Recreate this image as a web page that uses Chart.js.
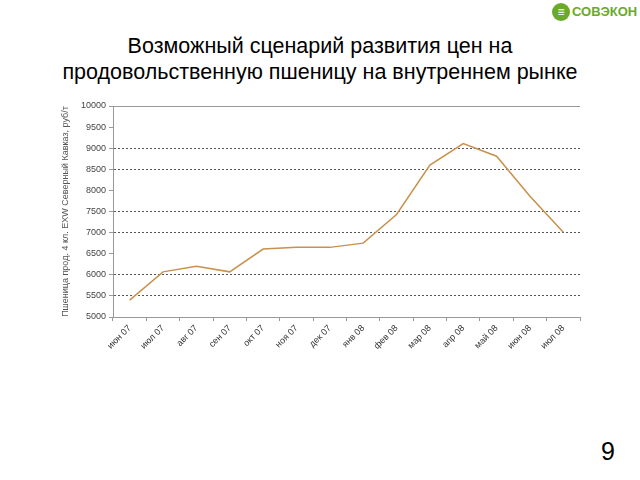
<!DOCTYPE html>
<html>
<head>
<meta charset="utf-8">
<script src="https://cdn.jsdelivr.net/npm/chart.js@4"></script>
<style>
  body { margin: 0; background: #fff; font-family: "Liberation Sans", Arial, sans-serif; }
  #page { position: relative; width: 640px; height: 480px; overflow: hidden; }
  #titre { position: absolute; left: 0; top: 33px; width: 640px; text-align: center;
           font-size: 21.5px; line-height: 26px; color: #000; }
  #logo { position: absolute; left: 552px; top: 3px; height: 20px; color: #6aaa2a;
          font-size: 13px; font-weight: bold; line-height: 18px; white-space: nowrap; }
  #logo .rond { display: inline-block; width: 18px; height: 18px; border-radius: 50%;
                background: #6aaa2a; color: #fff; font-size: 12px; text-align: center;
                line-height: 18px; vertical-align: top; margin-right: 2px; }
  #num { position: absolute; left: 601px; top: 437px; font-size: 25px; color: #000; }
  canvas { position: absolute; left: 0; top: 0; }
</style>
</head>
<body>
<div id="page">
  <div id="titre">Возможный сценарий развития цен на<br>продовольственную пшеницу на внутреннем рынке</div>
  <div id="logo"><span class="rond">&#8801;</span>СОВЭКОН</div>
  <div id="num">9</div>
  <canvas id="data" width="640" height="480"></canvas>
</div>
<script>
const mois = ["июн 07", "июл 07", "авг 07", "сен 07", "окт 07", "ноя 07", "дек 07",
              "янв 08", "фев 08", "мар 08", "апр 08", "май 08", "июн 08", "июл 08"];
const prix = [5400, 6070, 6200, 6070, 6610, 6650, 6650, 6750, 7430, 8600, 9110, 8810, 7860, 7010];
const lignesVisibles = [5500, 6000, 7000, 7500, 8500, 9000];

const canvas = document.getElementById("data");

const config = {
  type: "line",
  data: {
    labels: mois,
    datasets: [
      {
        data: prix,
        borderColor: "#C8914C",
        borderWidth: 1.5,
        pointRadius: 0,
        tension: 0
      }
    ]
  },
  options: {
    responsive: false,
    animation: false,
    layout: {
      padding: { left: 58, top: 106, right: 60, bottom: 113 }
    },
    scales: {
      x: {
        offset: true,
        grid: {
          offset: true,
          drawOnChartArea: false,
          tickLength: 4,
          tickColor: "#999999"
        },
        border: { color: "#999999", width: 1 },
        ticks: {
          color: "#333333",
          font: { family: "Liberation Sans", size: 9 },
          maxRotation: 45,
          minRotation: 45,
          padding: 2
        },
        afterFit: function (s) { s.height = 50; }
      },
      y: {
        min: 5000,
        max: 10000,
        grid: {
          color: function (ctx) {
            if (ctx.tick && ctx.tick.value == 10000) return "#999999";
            if (ctx.tick && lignesVisibles.includes(ctx.tick.value)) return "#555555";
            return "rgba(0,0,0,0)";
          },
          tickColor: "#999999",
          tickLength: 4
        },
        border: {
          color: "#999999",
          width: 1,
          dash: function (ctx) {
            if (ctx.tick && ctx.tick.value == 10000) return [];
            return [2, 2];
          }
        },
        ticks: {
          stepSize: 500,
          color: "#444444",
          font: { family: "Liberation Sans", size: 9 },
          padding: 3,
          callback: function (v) { return String(v); }
        },
        title: {
          display: true,
          text: "Пшеница прод. 4 кл. EXW Северный Кавказ, руб/т",
          color: "#555555",
          font: { family: "Liberation Sans", size: 9 },
          padding: 2
        },
        afterFit: function (s) { s.width = 55; }
      }
    },
    plugins: {
      legend: { display: false },
      tooltip: { enabled: false }
    }
  }
};

const myChart = new Chart(canvas, config);
</script>
</body>
</html>
